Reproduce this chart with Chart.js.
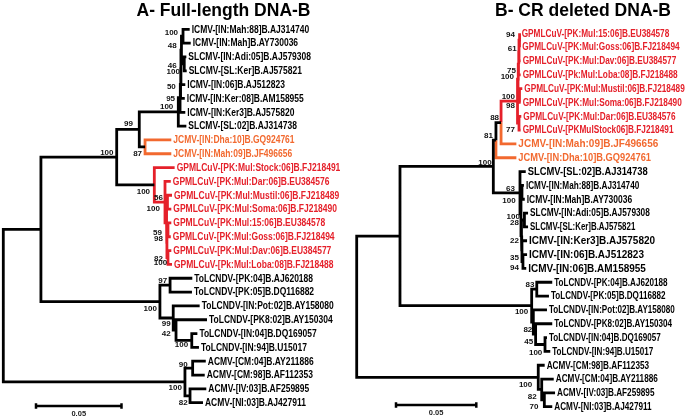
<!DOCTYPE html>
<html><head><meta charset="utf-8">
<script src="https://cdn.jsdelivr.net/npm/chart.js@4.4.0/dist/chart.umd.min.js"></script>
<style>
html,body{margin:0;padding:0;background:#fff;}
#wrap{position:relative;width:689px;height:419px;overflow:hidden;}
#ca{position:absolute;left:0;top:0;}
#cb{position:absolute;left:345px;top:0;}
</style></head><body>
<div id="wrap"><canvas id="ca" width="345" height="419"></canvas><canvas id="cb" width="344" height="419"></canvas></div>
<script>
// ---------------- DATA: panel A (full-length DNA-B) ----------------
const titleA = 'A- Full-length DNA-B';
const leavesA = [
  'ICMV-[IN:Mah:88]B.AJ314740','ICMV-[IN:Mah]B.AY730036','SLCMV-[IN:Adi:05]B.AJ579308','SLCMV-[SL:Ker]B.AJ575821',
  'ICMV-[IN:06]B.AJ512823','ICMV-[IN:Ker:08]B.AM158955','ICMV-[IN:Ker3]B.AJ575820','SLCMV-[SL:02]B.AJ314738',
  'JCMV-[IN:Dha:10]B.GQ924761','JCMV-[IN:Mah:09]B.JF496656',
  'GPMLCuV-[PK:Mul:Stock:06]B.FJ218491','GPMLCuV-[PK:Mul:Dar:06]B.EU384576','GPMLCuV-[PK:Mul:Mustil:06]B.FJ218489',
  'GPMLCuV-[PK:Mul:Soma:06]B.FJ218490','GPMLCuV-[PK:Mul:15:06]B.EU384578','GPMLCuV-[PK:Mul:Goss:06]B.FJ218494',
  'GPMLCuV-[PK:Mul:Dav:06]B.EU384577','GPMLCuV-[Pk:Mul:Loba:08]B.FJ218488',
  'ToLCNDV-[PK:04]B.AJ620188','ToLCNDV-[PK:05]B.DQ116882','ToLCNDV-[IN:Pot:02]B.AY158080','ToLCNDV-[PK8:02]B.AY150304',
  'ToLCNDV-[IN:04]B.DQ169057','ToLCNDV-[IN:94]B.U15017',
  'ACMV-[CM:04]B.AY211886','ACMV-[CM:98]B.AF112353','ACMV-[IV:03]B.AF259895','ACMV-[NI:03]B.AJ427911'];
// distance of each tip from the root (substitutions/site)
const leafDepthA = [0.1065,0.1071,0.1046,0.1048,0.1040,0.1037,0.1040,0.1046,0.0960,0.0960,
  0.0979,0.0957,0.0964,0.0960,0.0960,0.0957,0.0960,0.0964,
  0.1080,0.1078,0.1122,0.1164,0.1109,0.1118,0.1157,0.1151,0.1160,0.1141];
const leafGroupA = 'kkkkkkkkoorrrrrrrrkkkkkkkkkk'.split('');
// internal nodes: children (number = tip, 'nK' = node K), depth from root, bootstrap
const nodeKidsA = [['n1','n24'],['n2','n19'],['n3','n12'],['n4','n11'],['n5',7],['n6',6],['n7',5],['n8',4],
  ['n9','n10'],[0,1],[2,3],[8,9],[10,'n13'],[11,'n14'],['n15','n16'],[12,13],['n17','n18'],[14,15],[16,17],
  ['n20','n21'],[18,19],[20,'n22'],[21,'n23'],[22,23],['n25','n26'],[24,25],[26,27]];
const nodeDepthA = [0,0.0215,0.0648,0.0777,0.1000,0.1010,0.1013,0.1015,0.1018,0.1027,0.1034,0.0810,0.0863,
  0.0924,0.0933,0.0938,0.0935,0.0941,0.0941,0.0895,0.0953,0.0971,0.0987,0.1077,0.1038,0.1082,0.1067];
const bootA = ['','','100','99','100','95','50','46','48','100','100','87','100','56','100','100','98','59','82',
  '100','97','99','42','100','100','90','82'];
const nodeGroupA = 'kkkkkkkkkkkkkrrrrrrkkkkkkkk'.split('');

// ---------------- DATA: panel B (CR deleted DNA-B) ----------------
const titleB = 'B- CR deleted DNA-B';
const leavesB = [
  'GPMLCuV-[PK:Mul:15:06]B.EU384578','GPMLCuV-[PK:Mul:Goss:06]B.FJ218494','GPMLCuV-[PK:Mul:Dav:06]B.EU384577',
  'GPMLCuV-[Pk:Mul:Loba:08]B.FJ218488','GPMLCuV-[PK:Mul:Mustil:06]B.FJ218489','GPMLCuV-[PK:Mul:Soma:06]B.FJ218490',
  'GPMLCuV-[PK:Mul:Dar:06]B.EU384576','GPMLCuV-[PKMulStock06]B.FJ218491',
  'JCMV-[IN:Mah:09]B.JF496656','JCMV-[IN:Dha:10]B.GQ924761',
  'SLCMV-[SL:02]B.AJ314738','ICMV-[IN:Mah:88]B.AJ314740','ICMV-[IN:Mah]B.AY730036','SLCMV-[IN:Adi:05]B.AJ579308',
  'SLCMV-[SL:Ker]B.AJ575821','ICMV-[IN:Ker3]B.AJ575820','ICMV-[IN:06]B.AJ512823','ICMV-[IN:06]B.AM158955',
  'ToLCNDV-[PK:04]B.AJ620188','ToLCNDV-[PK:05]B.DQ116882','ToLCNDV-[IN:Pot:02]B.AY158080','ToLCNDV-[PK8:02]B.AY150304',
  'ToLCNDV-[IN:04]B.DQ169057','ToLCNDV-[IN:94]B.U15017',
  'ACMV-[CM:98]B.AF112353','ACMV-[CM:04]B.AY211886','ACMV-[IV:03]B.AF259895','ACMV-[NI:03]B.AJ427911'];
const leafDepthB = [0.0990,0.0994,0.0996,0.0996,0.1006,0.0996,0.1000,0.0996,0.0970,0.0970,
  0.1027,0.1016,0.1021,0.1041,0.1041,0.1035,0.1035,0.1030,
  0.1188,0.1168,0.1156,0.1188,0.1156,0.1176,0.1142,0.1197,0.1205,0.1188];
const leafGroupB = 'rrrrrrrrookkkkkkkkkkkkkkkkkk'.split('');
const nodeKidsB = [['n1','n24'],['n2','n19'],['n3','n12'],['n4',9],['n5',8],['n6','n11'],['n7','n10'],['n8',3],
  ['n9',2],[0,1],[4,5],[6,7],[10,'n13'],['n14','n15'],[11,12],['n16','n17'],[13,14],[15,'n18'],[16,17],
  ['n20','n21'],[18,19],[20,'n22'],[21,'n23'],[22,23],[24,'n25'],[25,'n26'],[26,27]];
const nodeDepthB = [0,0.0263,0.0830,0.0846,0.0877,0.0977,0.0980,0.0983,0.0986,0.0989,0.0989,0.0986,0.0992,
  0.0998,0.1004,0.1001,0.1019,0.1004,0.1010,0.1063,0.1094,0.1073,0.1087,0.1144,0.1103,0.1124,0.1140];
const bootB = ['','','100','81','88','100','100','75','61','94','98','77','63','28','100','22','100','35','94',
  '100','83','82','45','100','100','82','70'];
const nodeGroupB = 'kkkkkrrrrrrrkkkkkkkkkkkkkkk'.split('');

const scaleBarLength = 0.05;

// ---------------- STYLE ----------------
const COLORS = {k:'#000000', r:'#e5202a', o:'#f2692f'};
const LW = 2.8;
const labelOffA = [[0,0],[0,0],[-3.2,-4],[-6.3,-6],[-5,-4.6],[-5,1.4],[-4.8,4.4],[-4.3,-2],[-4.8,-4],[-5,-3.5],
  [-4.3,7.8],[-3,7],[-4.3,6.8],[-2,-4.5],[0.5,39.7],[-7.5,6.8],[-4,-4.4],[-6,2.9],[-5,1.8],[-3,6.8],[-3,-4.4],
  [-2.6,6],[-5.3,3.9],[-3.7,4.5],[-3,6.3],[-5,-3],[-2.3,6.9]];
const labelOffB = [[0,0],[0,0],[-1.6,-3.4],[-3,-4],[-2,-5],[-2.5,-4.5],[-4,-2],[-2.5,8],[-2.3,-1.3],[-4.5,-5],
  [-4.5,10.5],[-4,7],[-5,-4],[-2,9],[-6.3,8.3],[-2.5,5],[-4.5,-3.3],[-3,7],[-4,6],[-3.4,6.6],[-2.4,-4],
  [-1,8],[-2.4,7.6],[-2.7,8.2],[-6,7.7],[-5,7.2],[-6,7]];
const textScaleA = leavesA.map(()=>0.85);
const textScaleB = [0.826,0.826,0.826,0.826,0.826,0.826,0.826,0.826,1.0,0.93,0.94,0.82,0.85,0.83,0.79,1.0,1.0,1.0,
  0.81,0.81,0.81,0.81,0.81,0.81,0.82,0.82,0.82,0.82];

const FONT = '"Liberation Sans", Arial, Helvetica, sans-serif';

function parseRef(r){ return typeof r === 'number' ? {leaf:true,i:r} : {leaf:false,i:+r.slice(1)}; }

function layout(T){
  const nodeY = [];
  function yOf(r){
    const p = parseRef(r);
    if (p.leaf) return p.i;
    if (nodeY[p.i] !== undefined) return nodeY[p.i];
    const k = T.kids[p.i];
    const v = (yOf(k[0]) + yOf(k[k.length-1])) / 2;
    nodeY[p.i] = v; return v;
  }
  T.kids.forEach((k,i)=>yOf('n'+i));
  const byColor = {k:[], o:[], r:[]};
  T.kids.forEach((k,i)=>{
    k.forEach(r=>{
      const p = parseRef(r);
      const col = p.leaf ? T.leafGroup[p.i] : T.nodeGroup[p.i];
      const cx = p.leaf ? T.leafDepth[p.i] : T.nodeDepth[p.i];
      const cy = yOf(r);
      byColor[col].push({x:T.nodeDepth[i], y:nodeY[i]}, {x:T.nodeDepth[i], y:cy}, {x:cx, y:cy}, {x:cx, y:null});
    });
  });
  return {nodeY, byColor};
}

function makeTree(canvasId, T){
  const L = layout(T);
  const datasets = ['k','o','r'].map(c=>({
    data: L.byColor[c], borderColor: COLORS[c], borderWidth: LW, pointRadius: 0, spanGaps: false,
    tension: 0, fill: false, borderCapStyle: 'butt', borderJoinStyle: 'miter'
  }));
  const treePlugin = {
    id: 'treeText',
    afterDatasetsDraw(chart){
      const ctx = chart.ctx, xs = chart.scales.x, ys = chart.scales.y;
      ctx.save();
      // tip labels
      ctx.textBaseline = 'middle'; ctx.textAlign = 'left';
      ctx.font = 'bold 10.2px ' + FONT;
      T.leaves.forEach((name,i)=>{
        const px = xs.getPixelForValue(T.leafDepth[i]) + 2;
        const py = ys.getPixelForValue(i) + 0.5;
        ctx.fillStyle = COLORS[T.leafGroup[i]];
        ctx.save(); ctx.translate(px, py); ctx.scale(T.textScale[i] * 10 / 10.2, 1);
        ctx.fillText(name, 0, 0); ctx.restore();
      });
      // bootstrap values
      ctx.fillStyle = '#111'; ctx.textAlign = 'right';
      ctx.font = 'bold 8px ' + FONT;
      T.boot.forEach((b,i)=>{
        if (!b) return;
        const px = xs.getPixelForValue(T.nodeDepth[i]) + T.labelOff[i][0];
        const py = ys.getPixelForValue(L.nodeY[i]) + T.labelOff[i][1];
        ctx.fillText(b, px, py);
      });
      // scale bar (length via x scale)
      const v0 = xs.getValueForPixel(T.bar.x);
      const x0 = xs.getPixelForValue(v0), x1 = xs.getPixelForValue(v0 + scaleBarLength);
      ctx.strokeStyle = '#000'; ctx.lineWidth = 2.5; ctx.lineCap = 'butt';
      ctx.beginPath();
      ctx.moveTo(x0, T.bar.y); ctx.lineTo(x1, T.bar.y);
      ctx.moveTo(x0 + 1, T.bar.y - 2.7); ctx.lineTo(x0 + 1, T.bar.y + 2.7);
      ctx.moveTo(x1 - 1, T.bar.y - 2.7); ctx.lineTo(x1 - 1, T.bar.y + 2.7);
      ctx.stroke();
      ctx.fillStyle = '#222'; ctx.textAlign = 'center'; ctx.font = 'bold 7.5px ' + FONT;
      ctx.fillText(String(scaleBarLength), (x0 + x1) / 2, T.bar.y + 8);
      // title
      ctx.fillStyle = '#000'; ctx.textAlign = 'center';
      ctx.font = 'bold 17.5px ' + FONT;
      ctx.fillText(T.title, T.titleX, 11.5);
      ctx.restore();
    }
  };
  return new Chart(document.getElementById(canvasId), {
    type: 'line',
    data: { datasets },
    options: {
      responsive: false, animation: false, events: [],
      layout: { padding: 0 },
      plugins: { legend: {display:false}, title: {display:false}, tooltip: {enabled:false} },
      scales: {
        x: { type:'linear', display:false, min: T.xMin, max: T.xMax },
        y: { type:'linear', display:false, reverse:true, min: T.yMin, max: T.yMax }
      }
    },
    plugins: [treePlugin]
  });
}

makeTree('ca', {
  title: titleA, titleX: 223.5, leaves: leavesA, leafDepth: leafDepthA, leafGroup: leafGroupA,
  kids: nodeKidsA, nodeDepth: nodeDepthA, boot: bootA, nodeGroup: nodeGroupA,
  labelOff: labelOffA, textScale: textScaleA,
  xMin: -0.001886, xMax: 0.195257, yMin: -2.1186, yMax: 28.178,
  bar: {x: 35, y: 406}
});
makeTree('cb', {
  title: titleB, titleX: 238, leaves: leavesB, leafDepth: leafDepthB, leafGroup: leafGroupB,
  kids: nodeKidsB, nodeDepth: nodeDepthB, boot: bootB, nodeGroup: nodeGroupB,
  labelOff: labelOffB, textScale: textScaleB,
  xMin: -0.007108, xMax: 0.201882, yMin: -2.4078, yMax: 27.888,
  bar: {x: 50, y: 405}
});
</script>
</body></html>
